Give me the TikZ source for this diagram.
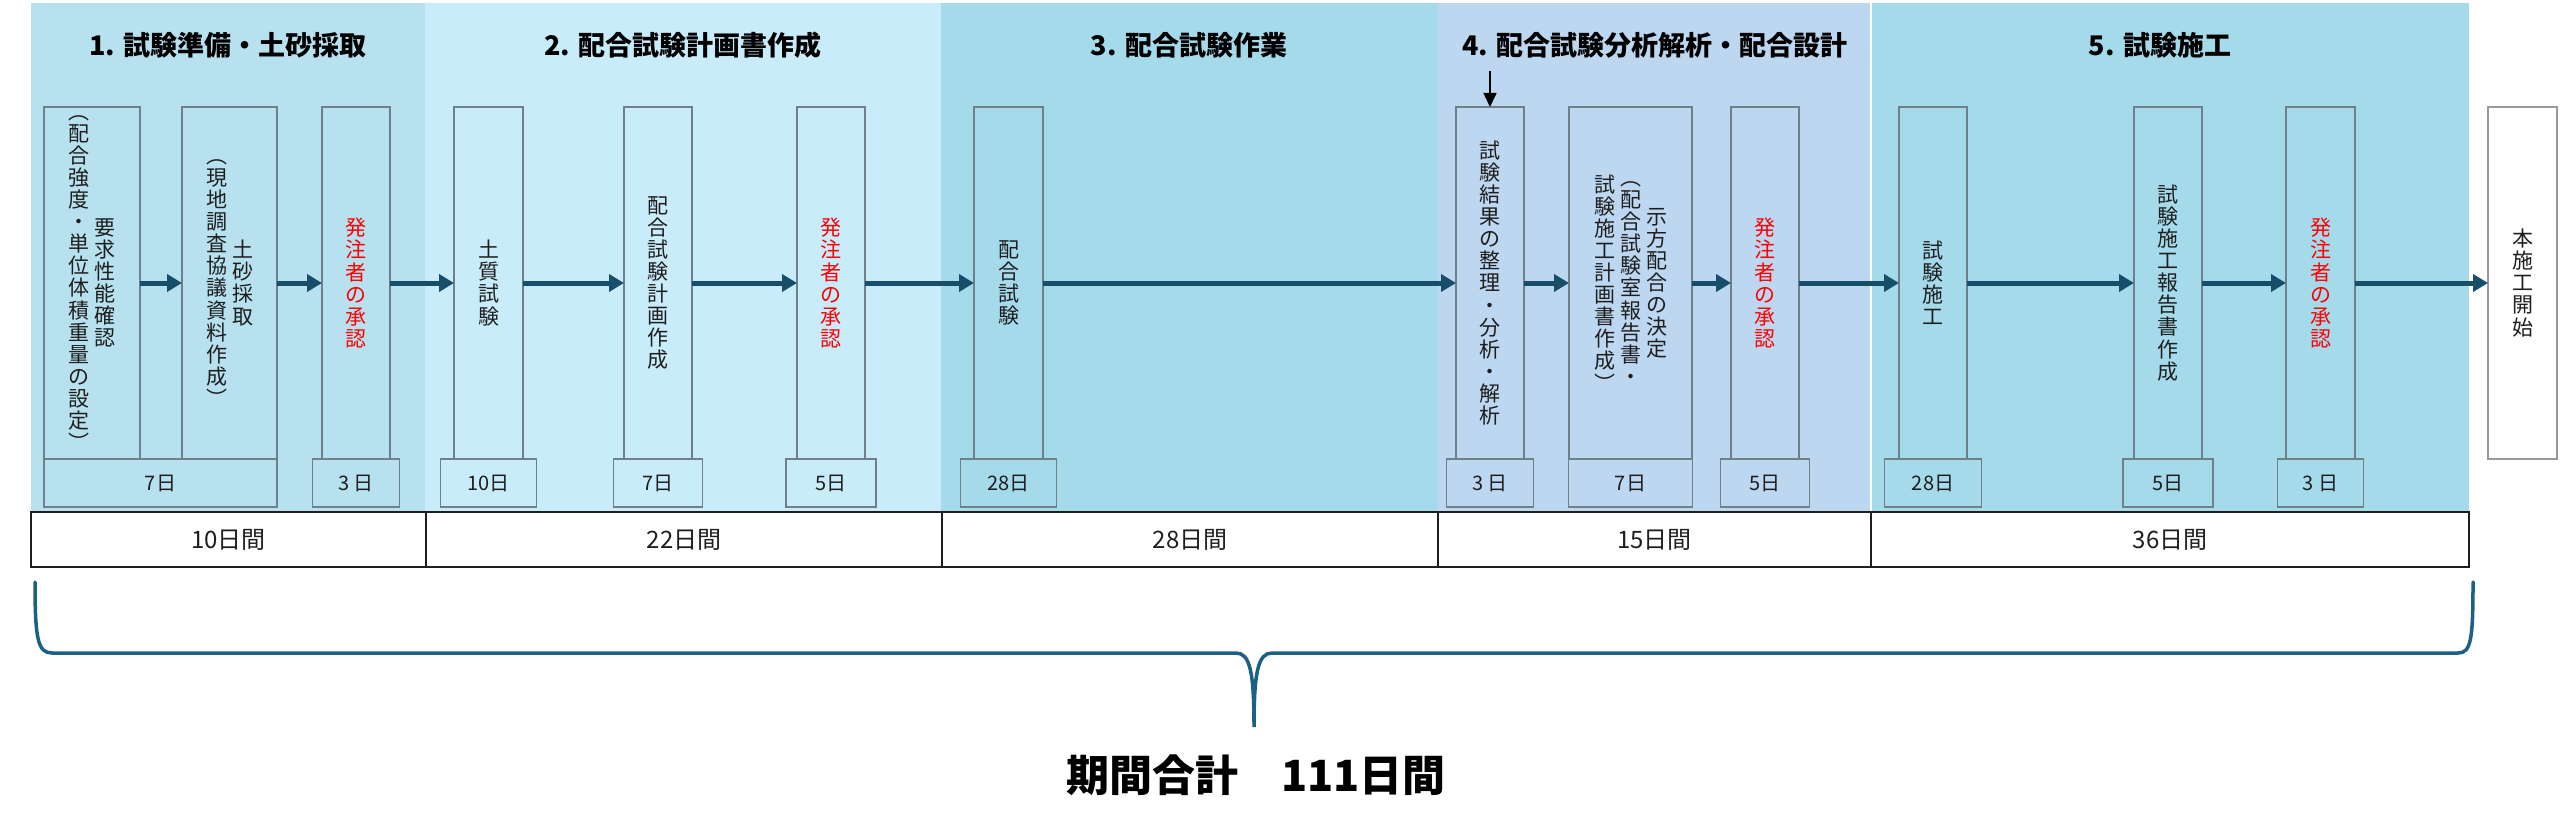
\documentclass[tikz,border=0pt]{standalone}
\usepackage{fontspec}
\setmainfont{Noto Sans CJK JP}
\usetikzlibrary{arrows.meta,positioning}

\definecolor{phaseA}{RGB}{183,225,238}
\definecolor{phaseB}{RGB}{200,236,250}
\definecolor{phaseC}{RGB}{165,218,235}
\definecolor{phaseD}{RGB}{189,215,240}
\definecolor{boxgray}{RGB}{112,128,138}
\definecolor{flowblue}{RGB}{23,78,106}
\definecolor{braceblue}{RGB}{28,96,132}
\definecolor{inkgray}{RGB}{30,30,30}

\ExplSyntaxOn
\NewDocumentCommand\tate{m}
 {
  \ensuremath{\vcenter{
    \baselineskip=1.05em \lineskiplimit=-\maxdimen
    \tl_map_inline:nn {#1} { \hbox_to_wd:nn {1em} { \hss ##1 \hss } }
  }}
 }
\ExplSyntaxOff

\begin{document}
\begin{tikzpicture}[
    x=1pt, y=-1pt,
    panel/.style={
        anchor=north west,
        inner sep=0pt, outer sep=0pt,
        minimum height=508pt
    },
    phasetitle/.style={
        font=\bfseries\fontsize{27pt}{27pt}\selectfont,
        inner sep=0pt
    },
    stepbox/.style={
        draw=boxgray, line width=1.2pt,
        inner sep=0pt, outer sep=0pt,
        minimum height=352pt,
        text=inkgray,
        font=\fontsize{21pt}{22pt}\selectfont
    },
    approval/.style={stepbox, text=red},
    startbox/.style={stepbox, draw=gray!80, fill=white},
    daybox/.style={
        draw=boxgray, line width=1.2pt,
        inner sep=0pt, outer sep=0pt,
        minimum height=48pt,
        text=inkgray,
        font=\fontsize{20pt}{20pt}\selectfont
    },
    daycell/.style={
        draw=inkgray, line width=2pt, fill=white,
        inner sep=0pt, outer sep=0pt,
        minimum height=55pt,
        text=inkgray,
        font=\fontsize{24pt}{24pt}\selectfont
    },
    flow/.style={
        draw=flowblue, line width=5pt,
        -{Triangle[length=15pt,width=17pt]}
    },
    inarrow/.style={
        draw=black, line width=1.5pt,
        -{Triangle[length=14pt,width=13pt]}
    },
    brace/.style={draw=braceblue, line width=3.5pt, line cap=round}
]
\useasboundingbox (0,0) rectangle (2560,832);

\node[panel, fill=phaseA, minimum width=394pt] (p1) at (31,3) {};
\node[panel, fill=phaseB, minimum width=516pt] (p2) at (425,3) {};
\node[panel, fill=phaseC, minimum width=497pt] (p3) at (941,3) {};
\node[panel, fill=phaseD, minimum width=433pt] (p4) at (1438,3) {};
\node[panel, fill=phaseC, minimum width=598pt] (p5) at (1871,3) {};
\draw[white, line width=2pt] (p5.north west) -- (p5.south west);

\node[phasetitle] (t1) at (228,45) {1. 試験準備・土砂採取};
\node[phasetitle] (t2) at (683,45) {2. 配合試験計画書作成};
\node[phasetitle] (t3) at (1189,45) {3. 配合試験作業};
\node[phasetitle] (t4) at (1655,45) {4. 配合試験分析解析・配合設計};
\node[phasetitle] (t5) at (2160,45) {5. 試験施工};

\node[stepbox, minimum width=96pt] (a1) at (92,283)
    {\tate{︵配合強度・単位体積重量の設定︶}\hspace{5pt}\tate{要求性能確認}};
\node[stepbox, minimum width=95pt] (a2) at (229.5,283)
    {\tate{︵現地調査協議資料作成︶}\hspace{5pt}\tate{土砂採取}};
\node[approval, minimum width=68pt] (a3) at (356,283) {\tate{発注者の承認}};
\node[stepbox, minimum width=69pt] (b1) at (488.5,283) {\tate{土質試験}};
\node[stepbox, minimum width=68pt] (b2) at (658,283) {\tate{配合試験計画作成}};
\node[approval, minimum width=68pt] (b3) at (831,283) {\tate{発注者の承認}};
\node[stepbox, minimum width=69pt] (c1) at (1008.5,283) {\tate{配合試験}};
\node[stepbox, minimum width=68pt] (d1) at (1490,283) {\tate{試験結果の整理・分析・解析}};
\node[stepbox, minimum width=123pt] (d2) at (1630.5,283)
    {\tate{試験施工計画書作成︶}\hspace{5pt}\tate{︵配合試験室報告書・}\hspace{5pt}\tate{示方配合の決定}};
\node[approval, minimum width=68pt] (d3) at (1765,283) {\tate{発注者の承認}};
\node[stepbox, minimum width=68pt] (e1) at (1933,283) {\tate{試験施工}};
\node[stepbox, minimum width=68pt] (e2) at (2168,283) {\tate{試験施工報告書作成}};
\node[approval, minimum width=69pt] (e3) at (2320.5,283) {\tate{発注者の承認}};
\node[startbox, minimum width=69pt] (f) at (2522.5,283) {\tate{本施工開始}};

\node[daybox, minimum width=233pt] (a1d) at (160.5,483) {7日};
\node[daybox, minimum width=87pt, below=0pt of a3] (a3d) {3 日};
\node[daybox, minimum width=96pt, below=0pt of b1] (b1d) {10日};
\node[daybox, minimum width=89pt, below=0pt of b2] (b2d) {7日};
\node[daybox, minimum width=90pt, below=0pt of b3] (b3d) {5日};
\node[daybox, minimum width=96pt, below=0pt of c1] (c1d) {28日};
\node[daybox, minimum width=87pt, below=0pt of d1] (d1d) {3 日};
\node[daybox, minimum width=124pt, below=0pt of d2] (d2d) {7日};
\node[daybox, minimum width=89pt, below=0pt of d3] (d3d) {5日};
\node[daybox, minimum width=97pt, below=0pt of e1] (e1d) {28日};
\node[daybox, minimum width=90pt, below=0pt of e2] (e2d) {5日};
\node[daybox, minimum width=86pt, below=0pt of e3] (e3d) {3 日};

\draw[flow] (a1) -- (a2);
\draw[flow] (a2) -- (a3);
\draw[flow] (a3) -- (b1);
\draw[flow] (b1) -- (b2);
\draw[flow] (b2) -- (b3);
\draw[flow] (b3) -- (c1);
\draw[flow] (c1) -- (d1);
\draw[flow] (d1) -- (d2);
\draw[flow] (d2) -- (d3);
\draw[flow] (d3) -- (e1);
\draw[flow] (e1) -- (e2);
\draw[flow] (e2) -- (e3);
\draw[flow] (e3) -- (f);

\coordinate (d1in) at (1490,71);
\draw[inarrow] (d1in) -- (d1.north);

\node[daycell, minimum width=395pt] (r1) at (228.5,539.5) {10日間};
\node[daycell, minimum width=516pt, right=0pt of r1] (r2) {22日間};
\node[daycell, minimum width=496pt, right=0pt of r2] (r3) {28日間};
\node[daycell, minimum width=433pt, right=0pt of r3] (r4) {15日間};
\node[daycell, minimum width=598pt, right=0pt of r4] (r5) {36日間};

\draw[brace] (35,582) .. controls (35,640) and (38,653) .. (52,653)
    -- (1236,653) .. controls (1250,653) and (1254,672) .. (1254,727)
    .. controls (1254,672) and (1258,653) .. (1272,653)
    -- (2458,653) .. controls (2471,653) and (2473,640) .. (2473,582);

\node[font=\bfseries\fontsize{43pt}{43pt}\selectfont] (total) at (1256,775) {期間合計　111日間};
\end{tikzpicture}
\end{document}
